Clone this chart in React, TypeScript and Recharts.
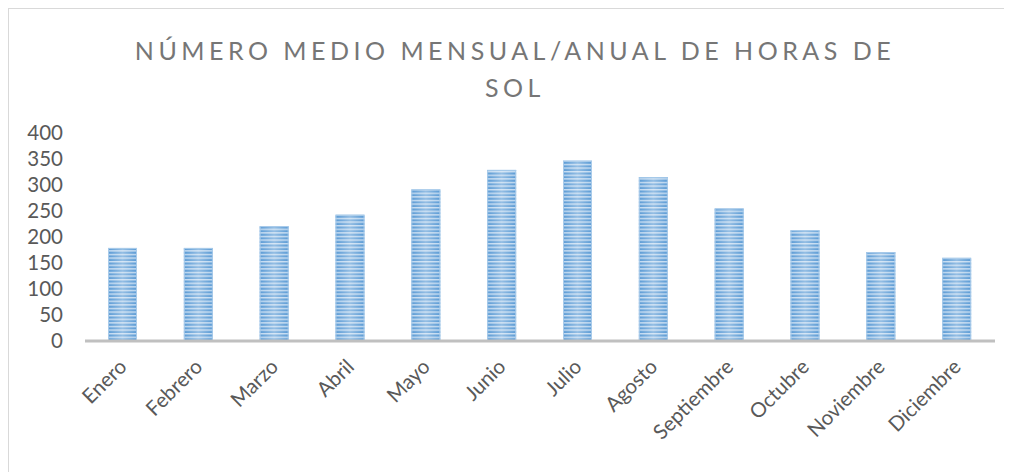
import React from 'react';
import { BarChart, Bar, XAxis, YAxis } from 'recharts';

const months = [
  'Enero', 'Febrero', 'Marzo', 'Abril', 'Mayo', 'Junio',
  'Julio', 'Agosto', 'Septiembre', 'Octubre', 'Noviembre', 'Diciembre',
];
const horasSol = [179, 179, 221, 243, 292, 329, 347, 315, 255, 213, 171, 160];
const yTicks = [0, 50, 100, 150, 200, 250, 300, 350, 400];

const data = months.map((name, i) => ({ name, horas: horasSol[i] }));

const font = 'Lato, "Open Sans", sans-serif';

const StripedBar = (props: any) => {
  const { x, y, width, height } = props;
  if (!height || height <= 0) return null;
  return (
    <g>
      <rect x={x} y={y} width={width} height={height} fill="url(#stripes)" />
      <rect x={x} y={y} width={width} height={height} fill="url(#shine)" />
      <rect x={x + 0.5} y={y + 0.5} width={width - 1} height={height - 1} fill="none" stroke="#a9cbea" strokeWidth={1} />
    </g>
  );
};

const MonthTick = (props: any) => {
  const { x, y, payload } = props;
  const ax = x + 5;
  const ay = y + 19;
  return (
    <text
      x={ax}
      y={ay}
      transform={`rotate(-45, ${ax}, ${ay})`}
      textAnchor="end"
      fill="#595959"
      fontSize={20.5}
      fontFamily={font}
    >
      {payload.value}
    </text>
  );
};

export default function App() {
  return (
    <div
      style={{
        position: 'relative',
        width: 1010,
        height: 470,
        marginLeft: -1,
        marginTop: -1,
        borderTop: '2px solid #d9d9d9',
        borderLeft: '2px solid #d9d9d9',
        background: '#fff',
        overflow: 'hidden',
      }}
    >
      <svg width={0} height={0} style={{ position: 'absolute' }}>
        <defs>
          <pattern id="stripes" patternUnits="userSpaceOnUse" width={4} height={3.6}>
            <rect width={4} height={3.6} fill="#5b9bd5" />
            <rect y={0} width={4} height={1.4} fill="#c4dbf1" />
          </pattern>
          <linearGradient id="shine" x1="0" y1="0" x2="1" y2="0">
            <stop offset="0" stopColor="#ffffff" stopOpacity={0} />
            <stop offset="0.5" stopColor="#ffffff" stopOpacity={0.35} />
            <stop offset="1" stopColor="#ffffff" stopOpacity={0} />
          </linearGradient>
        </defs>
      </svg>
      <div
        style={{
          position: 'absolute',
          left: 0,
          top: 23,
          width: 1012,
          textAlign: 'center',
          fontFamily: font,
          fontSize: 25,
          letterSpacing: 4.5,
          lineHeight: '37px',
          color: '#767676',
        }}
      >
        NÚMERO MEDIO MENSUAL/ANUAL DE HORAS DE
        <br />
        SOL
      </div>
      <BarChart
        width={1003}
        height={463}
        data={data}
        margin={{ top: 124, right: 17, left: 0, bottom: 6 }}
      >
        <YAxis
          width={76}
          domain={[0, 400]}
          ticks={yTicks}
          interval={0}
          axisLine={false}
          tickLine={false}
          tickMargin={16}
          tick={{ fill: '#595959', fontSize: 20.5, fontFamily: font }}
        />
        <XAxis
          dataKey="name"
          height={125}
          interval={0}
          tickLine={false}
          axisLine={{ stroke: '#c0c0c0', strokeWidth: 3 }}
          tick={<MonthTick />}
        />
        <Bar dataKey="horas" barSize={29} shape={<StripedBar />} isAnimationActive={false} />
      </BarChart>
    </div>
  );
}
